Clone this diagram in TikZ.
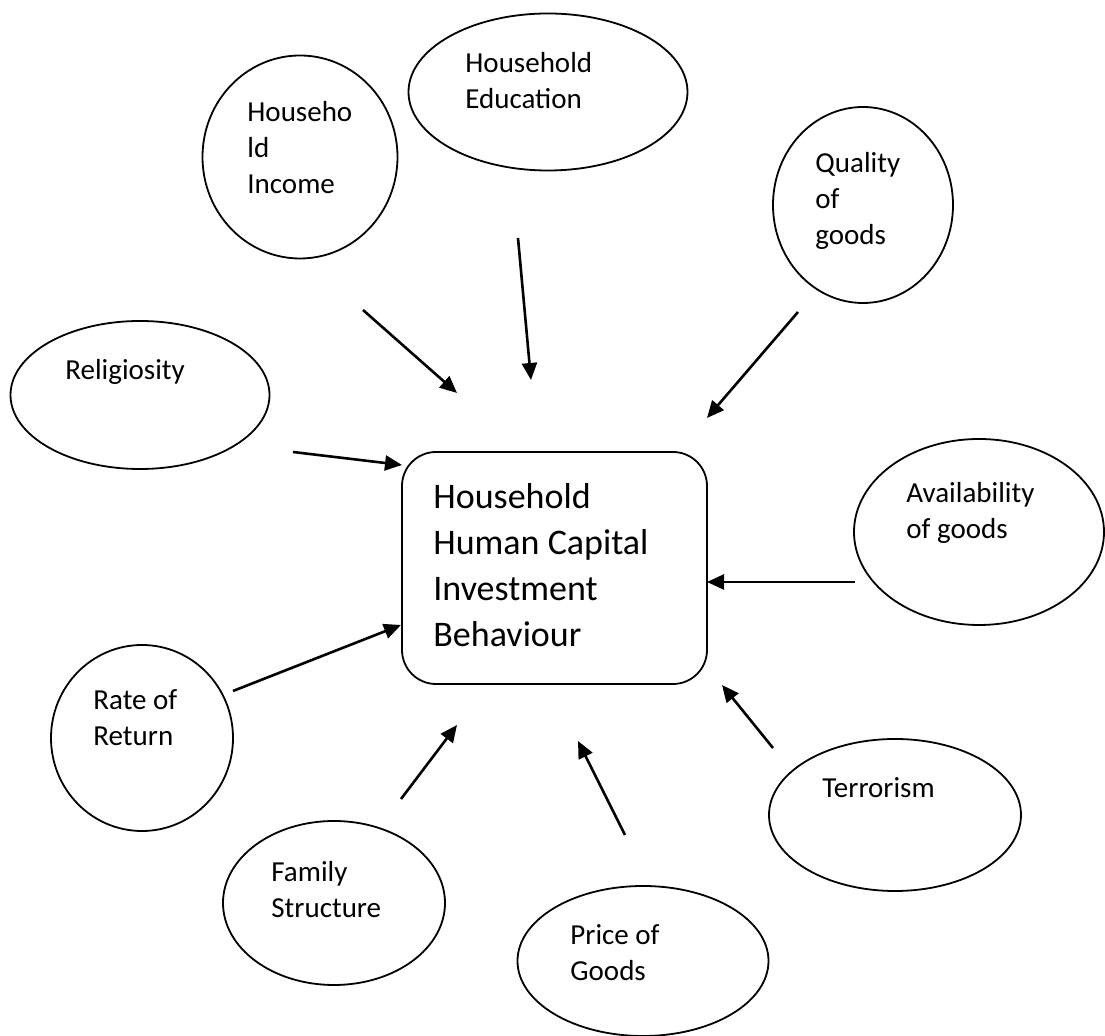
\documentclass[tikz,border=0pt]{standalone}
\usepackage{fontspec}
\setmainfont{Carlito}
\usetikzlibrary{shapes.geometric, arrows.meta}
\tikzset{
  factor/.style 2 args={ellipse, draw=black, line width=0.9pt, inner sep=0pt,
                        minimum width=#1*0.5pt, minimum height=#2*0.5pt},
  ftext/.style={anchor=base west, inner sep=0pt, text width=150pt, align=flush left,
                font=\fontsize{14.5}{18}\selectfont},
  flow/.style={-{Triangle[length=8.5pt, width=7.5pt]}, line width=1.3pt},
}
\begin{document}
\begin{tikzpicture}[x=0.5pt, y=-0.5pt,
  outcome/.style={draw=black, line width=0.9pt, rounded corners=17pt, inner sep=0pt}]
  \useasboundingbox (0,0) rectangle (1105,1036);
  % central box
  \node[outcome, minimum width=152.5pt, minimum height=116pt] (hhci) at (554.5,568) {};
  \node[ftext, text width=200pt, font=\fontsize{18}{23}\selectfont] (hhci-txt) at (433,508.5)
    {Household\\Human Capital\\Investment\\Behaviour};
  % surrounding factors
  \foreach \n/\x/\y/\w/\h in {income/300/157/195/203, educ/548/92/279/157, quality/863/205/180/196,
      relig/140/395/259/148, avail/979/532/250/186, rate/142/738/182/186,
      family/334/903/222/164, price/643/961/251/150, terror/895/815/252/152}
    \node[factor={\w}{\h}] (\n) at (\x,\y) {};
  \node[ftext] (income-txt) at (247,121.5) {Househo\\ld\\Income};
  \node[ftext] (educ-txt) at (465,72.5) {Household\\Education};
  \node[ftext] (quality-txt) at (815,172.5) {Quality\\of\\goods};
  \node[ftext] (relig-txt) at (65,379.5) {Religiosity};
  \node[ftext] (avail-txt) at (906,502.5) {Availability\\of goods};
  \node[ftext] (rate-txt) at (93,709.5) {Rate of\\Return};
  \node[ftext] (family-txt) at (271,881.5) {Family\\Structure};
  \node[ftext] (price-txt) at (570,944.5) {Price of\\Goods};
  \node[ftext] (terror-txt) at (822,797.5) {Terrorism};
  % arrow ends (the arrows touch neither shape)
  \coordinate (income-s) at (363,310);  \coordinate (income-e) at (457,393);
  \coordinate (educ-s) at (518,238);    \coordinate (educ-e) at (531,380);
  \coordinate (quality-s) at (798,312); \coordinate (quality-e) at (707,418);
  \coordinate (relig-s) at (293,452);   \coordinate (relig-e) at (402,465);
  \coordinate (avail-s) at (855,582);   \coordinate (avail-e) at (707,582);
  \coordinate (rate-s) at (233,691);    \coordinate (rate-e) at (401,625);
  \coordinate (family-s) at (401,799);  \coordinate (family-e) at (457,725);
  \coordinate (price-s) at (625,835);   \coordinate (price-e) at (578,741);
  \coordinate (terror-s) at (773,748);  \coordinate (terror-e) at (722,685);
  \foreach \n in {income, educ, quality, relig, avail, rate, family, price, terror}
    \draw[flow] (\n-s) -- (\n-e);
\end{tikzpicture}
\end{document}
